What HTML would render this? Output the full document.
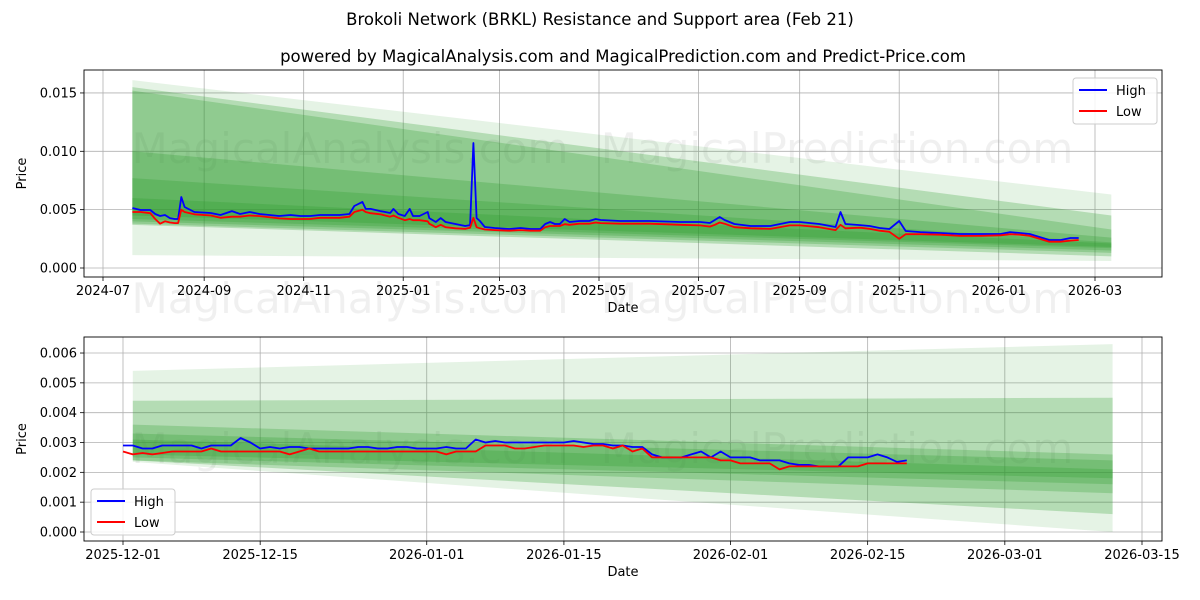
<!DOCTYPE html>
<html><head><meta charset="utf-8">
<style>
body{margin:0;background:#fff;}
svg{display:block;font-family:"DejaVu Sans","Liberation Sans",sans-serif;}
</style></head>
<body>
<svg id="chart" width="1200" height="600" viewBox="0 0 1200 600" xmlns="http://www.w3.org/2000/svg">
<rect width="1200" height="600" fill="#fff"/>
<text x="600" y="25" text-anchor="middle" font-size="16.5">Brokoli Network (BRKL) Resistance and Support area (Feb 21)</text>
<text x="623" y="62" text-anchor="middle" font-size="16.5">powered by MagicalAnalysis.com and MagicalPrediction.com and Predict-Price.com</text>
<g id="top"></g>
<g id="bot"></g>
</svg>
<script>
// ---- Top chart data (day index from 2024-07-01) ----
const topDays = [18,23,29,32,35,38,41,44,46,48,50,56,66,72,79,84,90,96,108,115,121,127,133,145,151,154,159,161,164,170,176,178,181,185,188,190,194,199,200,204,207,210,216,222,225,227,229,231,234,240,249,256,262,268,271,274,277,280,283,286,292,298,302,305,317,335,354,366,372,375,378,381,387,397,409,421,427,439,449,452,455,464,470,476,482,488,492,501,513,525,538,550,556,562,568,574,580,587,593,598];
const topHigh = [0.00514,0.00497,0.00497,0.00463,0.00446,0.00454,0.00428,0.0042,0.0042,0.00608,0.00523,0.0048,0.00471,0.00454,0.00488,0.00463,0.0048,0.00463,0.00446,0.00454,0.00446,0.00446,0.00454,0.00454,0.00463,0.00531,0.00566,0.00506,0.00506,0.00488,0.00471,0.00506,0.00463,0.00446,0.00506,0.00446,0.00446,0.0048,0.00428,0.00394,0.00428,0.00394,0.00377,0.0036,0.00368,0.01071,0.00428,0.00403,0.00351,0.00343,0.00334,0.00343,0.00334,0.00334,0.00377,0.00394,0.00377,0.00377,0.00420,0.00394,0.00403,0.00403,0.00420,0.00411,0.00403,0.00403,0.00394,0.00394,0.00386,0.00411,0.00437,0.00411,0.00377,0.0036,0.0036,0.00394,0.00394,0.00377,0.00351,0.0048,0.00377,0.00368,0.0036,0.00343,0.00334,0.00403,0.00317,0.00308,0.003,0.00291,0.00291,0.00291,0.00308,0.003,0.00291,0.00266,0.0024,0.0024,0.00257,0.00257];
const topLow = [0.00480,0.00480,0.00470,0.00420,0.00380,0.00400,0.00390,0.00385,0.00385,0.00500,0.00480,0.00460,0.00450,0.00430,0.00440,0.00440,0.00450,0.00445,0.00425,0.00420,0.00420,0.00420,0.00430,0.00430,0.00440,0.00480,0.00500,0.00480,0.00470,0.00460,0.00440,0.00450,0.00430,0.00410,0.00420,0.00410,0.00410,0.00400,0.00380,0.00350,0.00370,0.00350,0.00340,0.00335,0.00345,0.00430,0.00350,0.00340,0.00330,0.00325,0.00320,0.00325,0.00320,0.00320,0.00350,0.00360,0.00360,0.00360,0.00375,0.00370,0.00380,0.00380,0.00390,0.00385,0.00380,0.00380,0.00370,0.00365,0.00355,0.00370,0.00390,0.00380,0.00350,0.00340,0.00335,0.00365,0.00365,0.00350,0.00325,0.00370,0.00340,0.00345,0.00335,0.00320,0.00310,0.00250,0.00290,0.00290,0.00285,0.00275,0.00275,0.00280,0.00290,0.00285,0.00275,0.00250,0.00225,0.00225,0.00235,0.00240];
const topBandStart = [[0.0011,0.0161],[0.0037,0.0155],[0.0038,0.0152],[0.0040,0.0100],[0.0042,0.0077],[0.0045,0.0060]];
const topBandEnd = [[0.0006,0.0063],[0.0010,0.0045],[0.0013,0.0033],[0.0015,0.0026],[0.0017,0.0022],[0.0018,0.0021]];
const topYTicks = [0,0.005,0.010,0.015];
const topYLabels = ["0.000","0.005","0.010","0.015"];
const topXTicks = [0,62,123,184,243,304,365,427,488,549,608];
const topXLabels = ["2024-07","2024-09","2024-11","2025-01","2025-03","2025-05","2025-07","2025-09","2025-11","2026-01","2026-03"];

// ---- Bottom chart data (day index from 2025-12-01) ----
const botHigh = [0.0029,0.0029,0.0028,0.0028,0.0029,0.0029,0.0029,0.0029,0.0028,0.0029,0.0029,0.0029,0.00315,0.0030,0.0028,0.00285,0.0028,0.00285,0.00285,0.0028,0.0028,0.0028,0.0028,0.0028,0.00285,0.00285,0.0028,0.0028,0.00285,0.00285,0.0028,0.0028,0.0028,0.00285,0.0028,0.0028,0.0031,0.0030,0.00305,0.0030,0.0030,0.0030,0.0030,0.0030,0.0030,0.0030,0.00305,0.0030,0.00295,0.00295,0.0029,0.0029,0.00285,0.00285,0.0026,0.0025,0.0025,0.0025,0.0026,0.0027,0.0025,0.0027,0.0025,0.0025,0.0025,0.0024,0.0024,0.0024,0.0023,0.00225,0.00225,0.0022,0.0022,0.0022,0.0025,0.0025,0.0025,0.0026,0.0025,0.00235,0.0024];
const botLow = [0.0027,0.0026,0.00265,0.0026,0.00265,0.0027,0.0027,0.0027,0.0027,0.0028,0.0027,0.0027,0.0027,0.0027,0.0027,0.0027,0.0027,0.0026,0.0027,0.0028,0.0027,0.0027,0.0027,0.0027,0.0027,0.0027,0.0027,0.0027,0.0027,0.0027,0.0027,0.0027,0.0027,0.0026,0.0027,0.0027,0.0027,0.0029,0.0029,0.0029,0.0028,0.0028,0.00285,0.0029,0.0029,0.0029,0.0029,0.00285,0.0029,0.0029,0.0028,0.0029,0.0027,0.0028,0.0025,0.0025,0.0025,0.0025,0.0025,0.0025,0.0025,0.0024,0.0024,0.0023,0.0023,0.0023,0.0023,0.0021,0.0022,0.0022,0.0022,0.0022,0.0022,0.0022,0.0022,0.0022,0.0023,0.0023,0.0023,0.0023,0.0023];
const botBandStart = [[0.00235,0.0054],[0.0024,0.0044],[0.0024,0.0036],[0.0025,0.0033],[0.0026,0.0031]];
const botBandEnd = [[0.0000,0.0063],[0.0006,0.0045],[0.0013,0.0026],[0.0016,0.0024],[0.0018,0.0021]];
const botYTicks = [0,0.001,0.002,0.003,0.004,0.005,0.006];
const botYLabels = ["0.000","0.001","0.002","0.003","0.004","0.005","0.006"];
const botXTicks = [0,14,31,45,62,76,90,104];
const botXLabels = ["2025-12-01","2025-12-15","2026-01-01","2026-01-15","2026-02-01","2026-02-15","2026-03-01","2026-03-15"];

const NS = "http://www.w3.org/2000/svg";
function mk(parent, tag, attrs){const e=document.createElementNS(NS,tag);for(const k in attrs)e.setAttribute(k,attrs[k]);parent.appendChild(e);return e;}

function drawPanel(g, cfg){
  const {L,R,T,B,xs,ys}=cfg;
  cfg.wm.forEach(w=>{
    const t=mk(g,'text',{x:w[0],y:w[1],'font-size':42,fill:'#000','fill-opacity':0.06,'text-anchor':'middle'});
    
    
    t.textContent=w[2];
  });
  cfg.xTicks.forEach((d,i)=>{
    const x=xs(d);
    const l=mk(g,'line',{x1:x,x2:x,y1:T,y2:B,stroke:'#b0b0b0','stroke-width':0.8});
    
    
    mk(g,'line',{x1:x,x2:x,y1:B,y2:B+4,stroke:'#000','stroke-width':0.8});
    const t=mk(g,'text',{x:x,y:B+18,'font-size':13,'text-anchor':'middle'});
    
    
    t.textContent=cfg.xLabels[i];
  });
  cfg.yTicks.forEach((v,i)=>{
    const y=ys(v);
    const l=mk(g,'line',{x1:L,x2:R,y1:y,y2:y,stroke:'#b0b0b0','stroke-width':0.8});
    
    
    mk(g,'line',{x1:L-4,x2:L,y1:y,y2:y,stroke:'#000','stroke-width':0.8});
    const t=mk(g,'text',{x:L-7,y:y+4.5,'font-size':13,'text-anchor':'end'});
    
    
    t.textContent=cfg.yLabels[i];
  });
  cfg.bandStart.forEach((s,i)=>{
    const e=cfg.bandEnd[i];
    const x0=xs(cfg.bandD0), x1=xs(cfg.bandD1);
    const p=mk(g,'polygon',{points:`${x0},${ys(s[1])} ${x1},${ys(e[1])} ${x1},${ys(e[0])} ${x0},${ys(s[0])}`,fill:'#2a9a2a','fill-opacity':i===0?0.12:0.26});
    
    
  });
  const mkLine=(days,vals,color,name)=>{
    const pts=vals.map((v,i)=>`${xs(days[i]).toFixed(1)},${ys(v).toFixed(1)}`).join(' ');
    const pl=mk(g,'polyline',{points:pts,fill:'none',stroke:color,'stroke-width':1.8,'stroke-linejoin':'round'});
    
    
  };
  mkLine(cfg.days,cfg.high,'#0000ff','high-line');
  mkLine(cfg.days,cfg.low,'#ff0000','low-line');
  const f=mk(g,'rect',{x:L,y:T,width:R-L,height:B-T,fill:'none',stroke:'#000','stroke-width':0.9});
  
  
  const xl=mk(g,'text',{x:(L+R)/2,y:B+35,'font-size':13,'text-anchor':'middle'});
  
  
  xl.textContent='Date';
  const yl=mk(g,'text',{x:0,y:0,'font-size':13,'text-anchor':'middle',transform:`translate(26,${(T+B)/2}) rotate(-90)`});
  
  
  yl.textContent='Price';
  const [lx,ly]=cfg.legend;
  const lg=mk(g,'g',{});
  
  
  mk(lg,'rect',{x:lx,y:ly,width:84,height:46,rx:3,fill:'#fff','fill-opacity':0.85,stroke:'#ccc'});
  [['High','#0000ff'],['Low','#ff0000']].forEach((it,i)=>{
    const e=mk(lg,'g',{});
    
    
    mk(e,'line',{x1:lx+6,x2:lx+34,y1:ly+12+i*21,y2:ly+12+i*21,stroke:it[1],'stroke-width':2});
    const t=mk(e,'text',{x:lx+43,y:ly+17+i*21,'font-size':13});
    t.textContent=it[0];
  });
}

(function(){
  const L=84,R=1162,T=70,B=277;
  const xs=d=>103+(d)*(1095-103)/608;
  const ys=v=>268-v*11670;
  drawPanel(document.getElementById('top'),{L,R,T,B,xs,ys,days:topDays,high:topHigh,low:topLow,
    bandStart:topBandStart,bandEnd:topBandEnd,bandD0:18,bandD1:618,
    xTicks:topXTicks,xLabels:topXLabels,yTicks:topYTicks,yLabels:topYLabels,legend:[1073,78],
    wm:[[350,163,'MagicalAnalysis.com'],[837,163,'MagicalPrediction.com'],[350,313,'MagicalAnalysis.com'],[837,313,'MagicalPrediction.com']]});
})();
(function(){
  const L=84,R=1162,T=337,B=541;
  const xs=d=>123+d*(1142-123)/104;
  const ys=v=>532-v*29830;
  const days=botHigh.map((_,i)=>i);
  drawPanel(document.getElementById('bot'),{L,R,T,B,xs,ys,days,high:botHigh,low:botLow,
    bandStart:botBandStart,bandEnd:botBandEnd,bandD0:1,bandD1:101,
    xTicks:botXTicks,xLabels:botXLabels,yTicks:botYTicks,yLabels:botYLabels,legend:[91,489],
    wm:[[350,463,'MagicalAnalysis.com'],[837,463,'MagicalPrediction.com']]});
})();
</script>
</body></html>
